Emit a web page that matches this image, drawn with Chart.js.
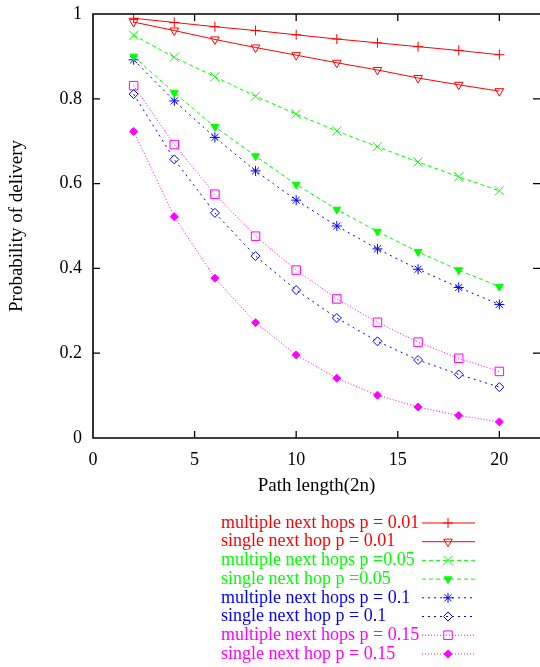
<!DOCTYPE html>
<html>
<head>
<meta charset="utf-8">
<script src="https://cdn.jsdelivr.net/npm/chart.js@4.4.1/dist/chart.umd.min.js"></script>
<style>
  body { margin: 0; background: #fff; }
</style>
</head>
<body>
<canvas id="deliveryChart" width="540" height="667"></canvas>
<script>
// x values (path length 2n)
const pathLength = [2, 4, 6, 8, 10, 12, 14, 16, 18, 20];

// values
const multiP001 = [0.990, 0.980, 0.970, 0.961, 0.951, 0.941, 0.932, 0.923, 0.914, 0.904];
const singleP001 = [0.981, 0.961, 0.940, 0.921, 0.903, 0.885, 0.868, 0.849, 0.833, 0.818];
const multiP005 = [0.950, 0.898, 0.852, 0.806, 0.764, 0.724, 0.687, 0.651, 0.616, 0.583];
const singleP005 = [0.900, 0.814, 0.734, 0.665, 0.598, 0.539, 0.487, 0.439, 0.396, 0.357];
const multiP01 = [0.892, 0.795, 0.709, 0.630, 0.561, 0.500, 0.446, 0.398, 0.355, 0.315];
const singleP01 = [0.811, 0.657, 0.531, 0.429, 0.349, 0.283, 0.228, 0.184, 0.150, 0.120];
const multiP015 = [0.831, 0.692, 0.575, 0.476, 0.396, 0.328, 0.273, 0.226, 0.188, 0.157];
const singleP015 = [0.723, 0.522, 0.377, 0.272, 0.196, 0.141, 0.101, 0.073, 0.053, 0.038];

const seriesLabels = [
    "multiple next hops p = 0.01",
    "single next hop p = 0.01",
    "multiple next hops p =0.05",
    "single next hop p =0.05",
    "multiple next hops p = 0.1",
    "single next hop p = 0.1",
    "multiple next hops p = 0.15",
    "single next hop p = 0.15"
];

const xTicks = [0, 5, 10, 15, 20];
const yTicks = [0, 0.2, 0.4, 0.6, 0.8, 1];

const RED = "#ff0000", GREEN = "#00ff00", BLUE = "#0000ff", MAGENTA = "#ff00ff";
const SERIF = "'Liberation Serif', 'DejaVu Serif', serif";

function toPoints(values) {
    return values.map((v, i) => ({ x: pathLength[i], y: v }));
}

function makeSet(label, values, color, dash, style, radius, rotation, filled) {
    return {
        label: label,
        data: toPoints(values),
        borderColor: color,
        borderWidth: 1,
        borderDash: dash,
        pointStyle: style,
        pointRadius: radius,
        pointRotation: rotation,
        pointBorderColor: color,
        pointBorderWidth: 1,
        pointBackgroundColor: filled ? color : "rgba(0,0,0,0)",
        fill: false,
        tension: 0
    };
}

var data = {
    datasets: [
        makeSet(seriesLabels[0], multiP001, RED, [], "cross", 5, 0, false),
        makeSet(seriesLabels[1], singleP001, RED, [], "triangle", 5, 180, false),
        makeSet(seriesLabels[2], multiP005, GREEN, [4, 3], "crossRot", 6.4, 0, false),
        makeSet(seriesLabels[3], singleP005, GREEN, [4, 3], "triangle", 4.5, 180, true),
        makeSet(seriesLabels[4], multiP01, BLUE, [2, 4], "star", 5, 0, false),
        makeSet(seriesLabels[5], singleP01, BLUE, [2, 4], "rectRot", 4.5, 0, false),
        makeSet(seriesLabels[6], multiP015, MAGENTA, [1, 2], "rect", 6, 0, false),
        makeSet(seriesLabels[7], singleP015, MAGENTA, [1, 2], "rectRot", 4, 0, true)
    ]
};

// frame, inward tick marks (gnuplot style) and the legend under the plot
const gnuplotLook = {
    id: "gnuplotLook",
    afterDraw(chart) {
        const ctx = chart.ctx;
        const area = chart.chartArea;
        const xs = chart.scales.x, ys = chart.scales.y;
        const tl = 7;

        ctx.save();
        ctx.strokeStyle = "#000";
        ctx.lineWidth = 1.6;
        ctx.setLineDash([]);
        ctx.beginPath();
        ctx.moveTo(area.right + 2, area.top);
        ctx.lineTo(area.left, area.top);
        ctx.lineTo(area.left, area.bottom);
        ctx.lineTo(area.right + 2, area.bottom);
        ctx.stroke();

        ctx.lineWidth = 1.3;
        ctx.beginPath();
        xs.ticks.forEach(t => {
            const px = xs.getPixelForValue(t.value);
            if (t.value <= 0) return;
            ctx.moveTo(px, area.bottom); ctx.lineTo(px, area.bottom - tl);
            ctx.moveTo(px, area.top); ctx.lineTo(px, area.top + tl);
        });
        ys.ticks.forEach(t => {
            const py = ys.getPixelForValue(t.value);
            if (t.value <= 0 || t.value >= 1) return;
            ctx.moveTo(area.left, py); ctx.lineTo(area.left + tl, py);
            ctx.moveTo(area.right, py); ctx.lineTo(area.right - tl, py);
        });
        ctx.stroke();

        // legend
        const textX = 221, lineX0 = 422, lineX1 = 475, markX = 448;
        const rowY0 = 523, rowStep = 18.7;
        ctx.font = "18px " + SERIF;
        ctx.textAlign = "left";
        ctx.textBaseline = "middle";
        chart.data.datasets.forEach((ds, i) => {
            const y = rowY0 + i * rowStep;
            ctx.fillStyle = ds.borderColor;
            ctx.fillText(ds.label, textX, y);
            ctx.strokeStyle = ds.borderColor;
            ctx.lineWidth = 1;
            ctx.setLineDash(ds.borderDash);
            ctx.beginPath();
            ctx.moveTo(lineX0, y);
            ctx.lineTo(lineX1, y);
            ctx.stroke();
            ctx.setLineDash([]);
            ctx.fillStyle = ds.pointBackgroundColor;
            Chart.helpers.drawPoint(ctx, {
                pointStyle: ds.pointStyle,
                rotation: ds.pointRotation,
                radius: ds.pointRadius,
                borderWidth: 1
            }, markX, y);
        });
        ctx.restore();
    }
};

function noEdgePadding(scale) {
    scale.paddingTop = 0;
    scale.paddingBottom = 0;
    scale.paddingLeft = 0;
    scale.paddingRight = 0;
}

const options = {
    responsive: false,
    animation: false,
    layout: { autoPadding: false, padding: { top: 14, right: -1, left: 0, bottom: 0 } },
    plugins: {
        legend: { display: false },
        tooltip: { enabled: false }
    },
    scales: {
        x: {
            type: "linear",
            min: 0,
            max: 22,
            grid: { display: false, drawTicks: false },
            border: { display: false },
            afterBuildTicks: (scale) => { scale.ticks = xTicks.map(v => ({ value: v })); },
            afterFit: (scale) => { scale.height = 229; noEdgePadding(scale); },
            ticks: {
                padding: 11,
                color: "#000",
                font: { family: SERIF, size: 18 },
                maxRotation: 0
            },
            title: {
                display: true,
                text: "Path length(2n)",
                color: "#000",
                font: { family: SERIF, size: 19 },
                padding: { top: 0, bottom: 170 }
            }
        },
        y: {
            min: 0,
            max: 1,
            grid: { display: false, drawTicks: false },
            border: { display: false },
            afterBuildTicks: (scale) => { scale.ticks = yTicks.map(v => ({ value: v })); },
            afterFit: (scale) => { scale.width = 93; noEdgePadding(scale); },
            ticks: {
                padding: 11,
                color: "#000",
                font: { family: SERIF, size: 18 },
                callback: (v) => String(Math.round(v * 10) / 10)
            },
            title: {
                display: true,
                text: "Probability of delivery",
                color: "#000",
                font: { family: SERIF, size: 19 },
                padding: { top: 6, bottom: 0 }
            }
        }
    }
};

const chart = new Chart(document.getElementById("deliveryChart").getContext("2d"), {
    type: "line",
    data: data,
    options: options,
    plugins: [gnuplotLook]
});
</script>
</body>
</html>
